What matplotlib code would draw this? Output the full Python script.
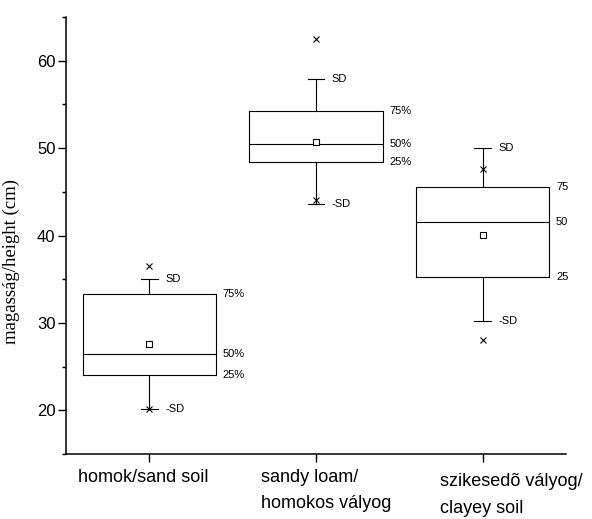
import matplotlib
matplotlib.use('Agg')
import matplotlib.pyplot as plt
from matplotlib.ticker import MultipleLocator

# values (cm)
soils = ['homok/sand soil', 'sandy loam/\nhomokos vályog', 'szikesedõ vályog/\nclayey soil']
q25 = [24.0, 48.4, 35.2]
q50 = [26.4, 50.5, 41.5]
q75 = [33.3, 54.3, 45.6]
sd_lo = [20.2, 43.6, 30.2]
sd_hi = [35.0, 57.9, 50.0]
means = [27.6, 50.7, 40.1]
x_min = [20.2, 44.1, 28.0]
x_max = [36.5, 62.5, 47.6]
pct_labels = [['75%', '50%', '25%'], ['75%', '50%', '25%'], ['75', '50', '25']]

plt.rcParams['font.family'] = ['Liberation Sans', 'DejaVu Sans']

stats = []
for i in range(3):
    stats.append(dict(q1=q25[i], med=q50[i], q3=q75[i], whislo=sd_lo[i], whishi=sd_hi[i],
                      mean=means[i], fliers=[x_min[i], x_max[i]]))

fig = plt.figure(figsize=(5.92, 5.19), dpi=100)
ax = fig.add_axes([0.1115, 0.1252, 0.8446, 0.842])

pos = [1, 2, 3]
lw = 0.8
ax.bxp(stats, positions=pos, widths=0.8, capwidths=0.1, showmeans=True, manage_ticks=False,
       boxprops=dict(color='black', linewidth=lw),
       whiskerprops=dict(color='black', linewidth=lw),
       capprops=dict(color='black', linewidth=lw),
       medianprops=dict(color='black', linewidth=lw),
       meanprops=dict(marker='s', markerfacecolor='white', markeredgecolor='black',
                      markersize=4, markeredgewidth=0.8),
       flierprops=dict(marker='x', markeredgecolor='black', markersize=4, markeredgewidth=0.8))

# SD and percentile labels
for i, p in enumerate(pos):
    ax.text(p + 0.095, sd_hi[i], 'SD', fontsize=8, va='center', ha='left')
    ax.text(p + 0.095, sd_lo[i], '-SD', fontsize=8, va='center', ha='left')
    for lab, v in zip(pct_labels[i], [q75[i], q50[i], q25[i]]):
        ax.text(p + 0.44, v, lab, fontsize=8, va='center', ha='left')

ax.set_xlim(0.5, 3.5)
ax.set_ylim(15, 65)
ax.set_xticks(pos)
ax.set_xticklabels([])
ax.yaxis.set_major_locator(MultipleLocator(10))
ax.yaxis.set_minor_locator(MultipleLocator(5))
ax.set_yticks([20, 30, 40, 50, 60])
ax.tick_params(axis='y', which='major', length=5.5, width=1, labelsize=12, pad=2)
ax.tick_params(axis='y', which='minor', length=3, width=1)
ax.tick_params(axis='x', length=6, width=1)

for s in ['top', 'right']:
    ax.spines[s].set_visible(False)
for s in ['left', 'bottom']:
    ax.spines[s].set_linewidth(1.1)

# category labels, placed left-aligned like the original (top edge just under the axis)
lab_x = [0.569, 1.67, 2.743]
lab_dy = [-11, -11, -14]
for x, dy, t in zip(lab_x, lab_dy, soils):
    ax.annotate(t, xy=(x, 0), xycoords=('data', 'axes fraction'), xytext=(0, dy),
                textcoords='offset points', ha='left', va='top', fontsize=13,
                linespacing=1.7)

ax.set_ylabel('magasság/height (cm)', family=['Liberation Serif', 'DejaVu Serif'], fontsize=13.5)
ax.yaxis.set_label_coords(-0.092, 0.44)

fig.savefig('out.png', dpi=100)
